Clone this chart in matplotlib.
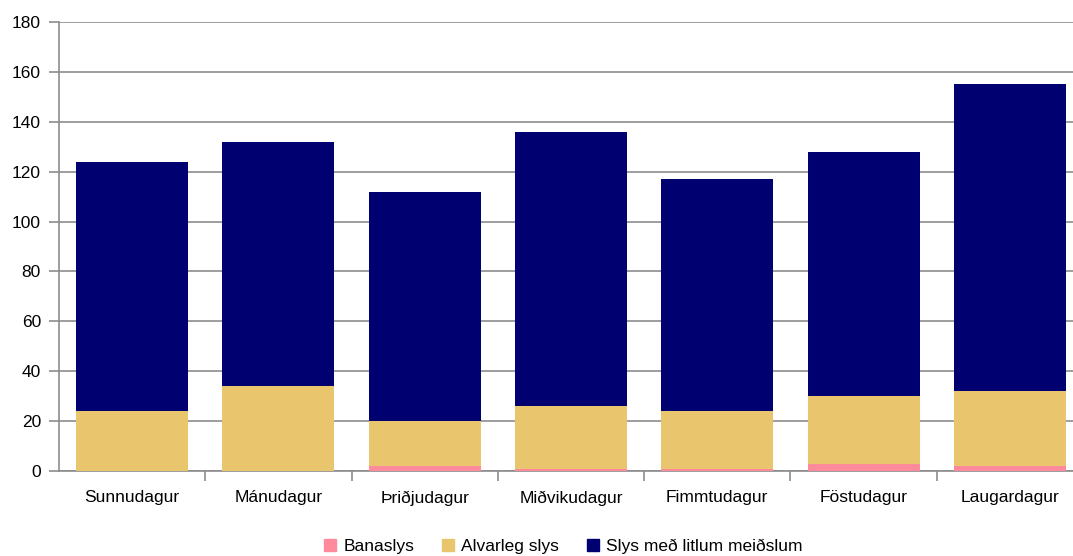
import numpy as np
from matplotlib import pyplot as plt
from matplotlib.patches import Patch

plt.rcParams['font.family'] = ['Liberation Sans', 'DejaVu Sans']

days = ['Sunnudagur', 'Mánudagur', 'Þriðjudagur', 'Miðvikudagur',
        'Fimmtudagur', 'Föstudagur', 'Laugardagur']
banaslys = [0, 0, 2, 1, 1, 3, 2]
alvarleg = [24, 34, 18, 25, 23, 27, 30]
litil = [100, 98, 92, 110, 93, 98, 123]

labels = ['Banaslys', 'Alvarleg slys', 'Slys með litlum meiðslum']
colors = ['#FF8A9B', '#E9C66E', '#000070']

fig = plt.figure(figsize=(10.73, 5.56), dpi=100)
# plot area runs a little past the right edge of the picture, as in the original
ax = fig.add_axes([59 / 1073, 85 / 556, 1024 / 1073, 449 / 556])

x = np.arange(len(days))
bottom = np.zeros(len(days))
for vals, col in zip([banaslys, alvarleg, litil], colors):
    ax.bar(x, vals, bottom=bottom, width=0.765, color=col, zorder=3)
    bottom += np.array(vals)

ax.set_xlim(-0.5, len(days) - 0.5)
ax.set_ylim(0, 180)
ax.set_yticks(range(0, 181, 20))
ax.yaxis.grid(True, color='#8c8c8c', linewidth=1.2, zorder=0)

ax.set_xticks(x)
ax.set_xticklabels(days, fontsize=12.5)
ax.tick_params(axis='x', length=0, pad=14)
ax.set_xticks(np.arange(0.5, len(days) - 0.5, 1), minor=True)
ax.tick_params(axis='x', which='minor', length=7, color='#8c8c8c', width=1.2)
ax.tick_params(axis='y', length=7, color='#8c8c8c', width=1.2, labelsize=12.5, pad=6)

for side in ['top', 'right']:
    ax.spines[side].set_visible(False)
for side in ['left', 'bottom']:
    ax.spines[side].set_color('#8c8c8c')
    ax.spines[side].set_linewidth(1.2)

handles = [Patch(color=c, label=l) for c, l in zip(colors, labels)]
fig.legend(handles=handles, loc='lower center', ncol=3, frameon=False,
           fontsize=12.5, bbox_to_anchor=(0.525, -0.025), handlelength=0.7,
           handleheight=0.7, handletextpad=0.4, columnspacing=1.6)

fig.savefig('out.png', dpi=100)
